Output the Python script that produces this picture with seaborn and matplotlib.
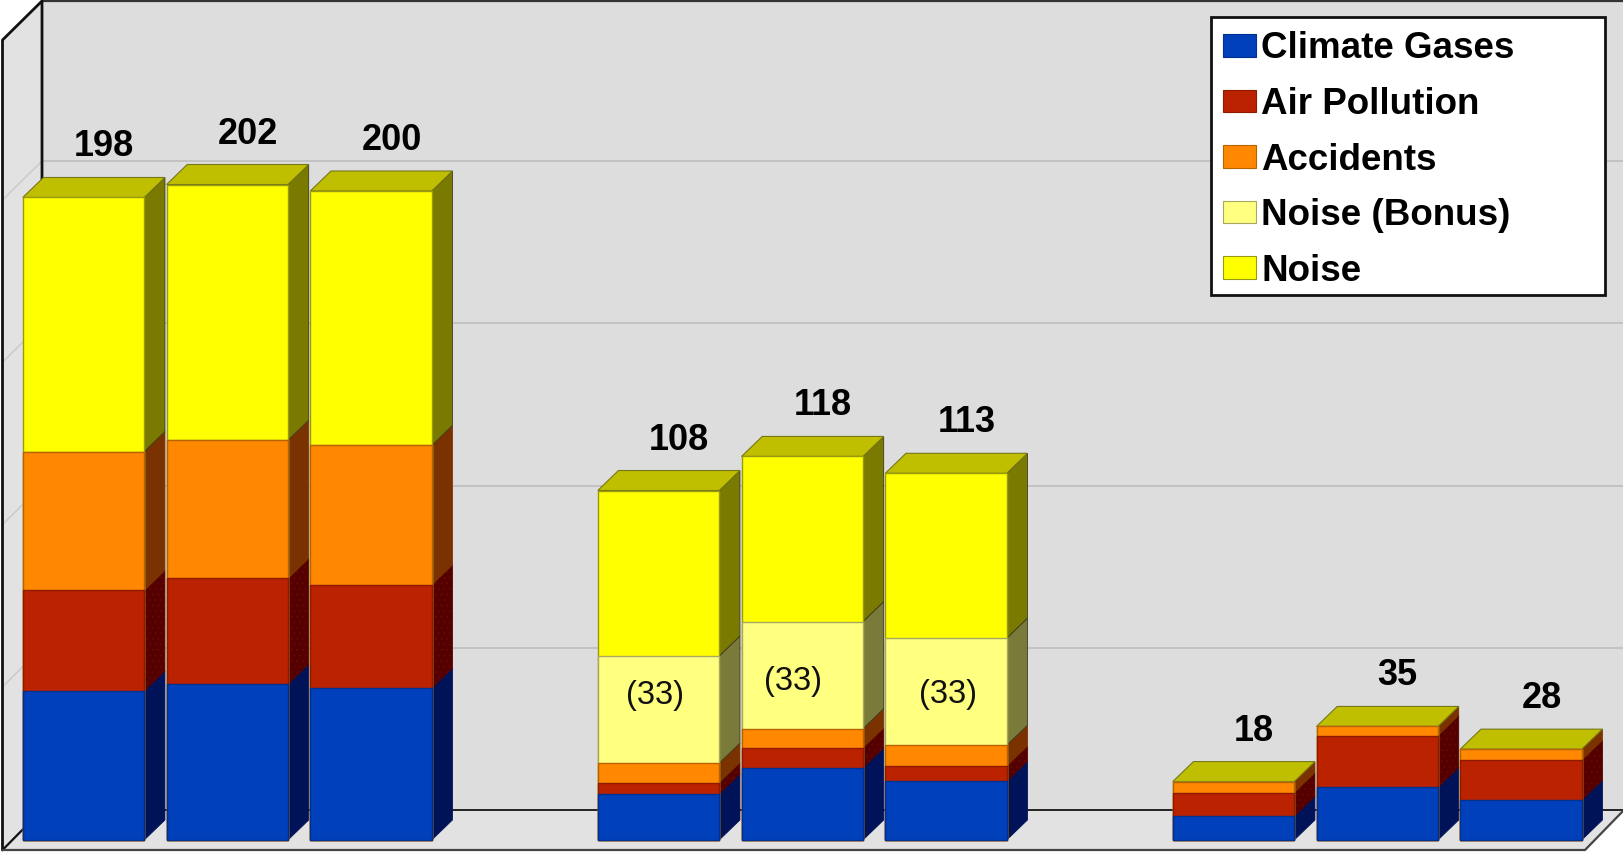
import matplotlib
matplotlib.use("Agg")
import matplotlib.pyplot as plt
from matplotlib.patches import Patch, Polygon, Rectangle
from matplotlib.transforms import Affine2D
import numpy as np
import pandas as pd
import seaborn as sns

# ---- data ----
series_names = ["Climate Gases", "Air Pollution", "Accidents", "Noise (Bonus)", "Noise"]
climate = [45.9, 48.0, 46.8, 14.2, 22.2, 18.1, 7.3, 16.2, 12.3]
air = [31.0, 32.6, 31.8, 3.5, 6.2, 4.7, 7.3, 16.0, 12.3]
accidents = [42.8, 42.6, 43.0, 6.0, 5.9, 6.4, 3.4, 2.8, 3.4]
bonus = [0, 0, 0, 33, 33, 33, 0, 0, 0]
noise = [78.3, 78.8, 78.4, 51.0, 50.9, 50.8, 0, 0, 0]
total_labels = ["198", "202", "200", "108", "118", "113", "18", "35", "28"]
bonus_label = "(33)"

# ---- style ----
front = ["#0040BB", "#BB2200", "#FF8800", "#FFFF80", "#FFFF00"]
edges = ["#003090", "#8E1A00", "#B86200", "#A8A860", "#9A9A10"]
sides = ["#001258", "#550000", "#7A3300", "#7A7A3A", "#7A7A00"]
top_colour = "#BFBF00"
wall = "#DDDDDD"
W, H = 1624, 852
PX_UNIT = 3.245       # pixels per value unit
PX_SLOT = 143.75      # pixels per bar slot
X0, Y0 = 83.5, 840.0  # pixel of slot 0 / value 0
DEPTH_X, DEPTH_Y = 20.7 / PX_SLOT, 20.0 / PX_UNIT
BAR_W = 0.845

sns.set_style("white")
plt.rcParams["font.family"] = ["Liberation Sans", "DejaVu Sans"]

slots = [g * 4 + b for g in range(3) for b in range(3)]
stack = np.array([climate, air, accidents, bonus, noise], dtype=float)
cum = stack.cumsum(axis=0)
df = pd.DataFrame({"slot": slots})
for name, col in zip(series_names, cum):
    df[name] = col

fig = plt.figure(figsize=(W / 100, H / 100), dpi=100, facecolor="white")
ax = fig.add_axes([0, 0, 1, 1])
ax.set_xlim(-X0 / PX_SLOT, (W - X0) / PX_SLOT)
ax.set_ylim(-(H - Y0) / PX_UNIT, Y0 / PX_UNIT)
px = Affine2D().scale(1 / W, -1 / H).translate(0, 1) + fig.transFigure

# ---- chart box: walls and floor, in pixels ----
bx, by, fx, fy, tb = 42, 810, 2.5, 850, 1
ax.add_patch(Polygon([(bx, tb), (W, tb), (W, by), (bx, by)], fc=wall, ec="none", transform=px, zorder=0))
ax.add_patch(Polygon([(fx, tb + 39), (bx, tb), (bx, by), (fx, fy)], fc="#E2E2E2", ec="none", transform=px, zorder=0))
ax.add_patch(Polygon([(fx, fy), (bx, by), (W, by), (1585, fy)], fc="#E2E2E2", ec="none", transform=px, zorder=0))
for v in [50, 100, 150, 200]:
    y = by - v * PX_UNIT
    ax.plot([bx, W], [y, y], color="#BDBDBD", lw=1.2, transform=px, zorder=0.2)
    ax.plot([fx, bx], [y + 39, y], color="#C8C8C8", lw=1.0, transform=px, zorder=0.2)
ax.plot([bx, W], [tb, tb], color="#333333", lw=1.6, transform=px, zorder=0.3)
ax.plot([fx, fx, bx, bx], [fy, tb + 39, tb, by], color="#111111", lw=2.0, transform=px, zorder=0.3)
ax.plot([bx, W], [by, by], color="#222222", lw=1.4, transform=px, zorder=0.3)
ax.plot([fx, bx], [fy, by], color="#111111", lw=1.6, transform=px, zorder=0.3)
ax.plot([fx, 1585, W], [fy, fy, by], color="#444444", lw=1.6, transform=px, zorder=0.3)

# ---- 3D sides and tops from the data ----
plt.rcParams["hatch.linewidth"] = 0.5
for i, s in enumerate(slots):
    x1 = s + BAR_W / 2
    x0 = s - BAR_W / 2
    lo = 0.0
    for k in range(5):
        hi = cum[k, i]
        if hi > lo:
            ax.add_patch(Polygon(
                [(x1, lo), (x1 + DEPTH_X, lo + DEPTH_Y), (x1 + DEPTH_X, hi + DEPTH_Y), (x1, hi)],
                fc=sides[k], ec="#3A3A20" if k > 2 else sides[k], lw=0.6, zorder=0.8))
            if k == 1:
                ax.add_patch(Polygon(
                    [(x1, lo), (x1 + DEPTH_X, lo + DEPTH_Y), (x1 + DEPTH_X, hi + DEPTH_Y), (x1, hi)],
                    fc="none", ec="#6A0C00", lw=0, hatch="...", zorder=0.85))
        lo = hi
    ax.add_patch(Polygon(
        [(x0, lo), (x1, lo), (x1 + DEPTH_X, lo + DEPTH_Y), (x0 + DEPTH_X, lo + DEPTH_Y)],
        fc=top_colour, ec="#77771A", lw=0.8, zorder=0.9))

# ---- front faces: cumulative bars, drawn from the tallest down ----
for k in range(4, -1, -1):
    sns.barplot(data=df, x="slot", y=series_names[k], native_scale=True, width=BAR_W,
                color=front[k], saturation=1, edgecolor=edges[k], linewidth=1.0,
                errorbar=None, ax=ax, zorder=1 + (4 - k) * 0.01)

ax.set_xlim(-X0 / PX_SLOT, (W - X0) / PX_SLOT)
ax.set_ylim(-(H - Y0) / PX_UNIT, Y0 / PX_UNIT)
ax.axis("off")

# ---- value labels ----
for s, t, lab in zip(slots, cum[4], total_labels):
    ax.annotate(lab, (s, t), xytext=(20.5 * 0.72, 50.5 * 0.72), textcoords="offset points",
                ha="center", va="center", fontsize=26, fontweight="bold", color="black", zorder=5)

bonus_shift = {3: (-3.5, 14), 4: (-9.5, -6.5), 5: (2, -3)}
for i, (dxp, dyp) in bonus_shift.items():
    mid = (cum[2, i] + cum[3, i]) / 2
    ax.annotate(bonus_label, (slots[i], mid), xytext=(dxp * 0.72, dyp * 0.72), textcoords="offset points",
                ha="center", va="center", fontsize=23.5, color="#111111", zorder=5)

# ---- legend ----
ax.add_patch(Rectangle((1211, 17), 394, 277.5, fc="white", ec="#111111", lw=2.0, transform=px, zorder=5.5))
handles = [Patch(facecolor=c, edgecolor=e, linewidth=0.8) for c, e in zip(front, edges)]
leg = ax.legend(handles, series_names, loc="upper left",
                bbox_to_anchor=(1213 / W, 1 - 21 / H), bbox_transform=fig.transFigure,
                borderaxespad=0, frameon=False, labelcolor="black",
                prop={"size": 26.5, "weight": "bold", "family": "Liberation Sans"},
                handlelength=0.9, handleheight=0.57, handletextpad=0.13, labelspacing=0.56,
                borderpad=0.28)
leg.set_zorder(6)

fig.savefig("out.png", dpi=100, facecolor="white")
